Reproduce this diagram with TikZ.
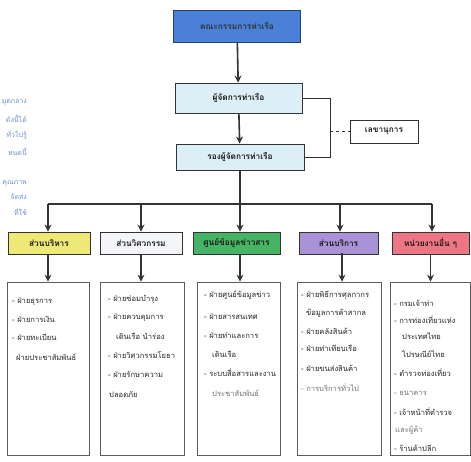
\documentclass[tikz,border=0pt]{standalone}
\usepackage{fontspec}
\newfontfamily\thai[Script=Thai]{Loma}
\usetikzlibrary{arrows.meta}
\definecolor{linegray}{HTML}{333333}
\definecolor{topblue}{HTML}{4A80D8}
\definecolor{paleblue}{HTML}{DCEFF6}
\definecolor{unityellow}{HTML}{EEE877}
\definecolor{unitwhite}{HTML}{F3F5F8}
\definecolor{unitgreen}{HTML}{46B464}
\definecolor{unitpurple}{HTML}{A992D6}
\definecolor{unitred}{HTML}{EE7584}
\definecolor{fadeblue}{HTML}{6F8FD8}
\tikzset{
  orgbox/.style={draw=linegray, line width=0.9pt, inner sep=0pt, font=\thai\bfseries\fontsize{8.3}{9}\selectfont, text=black!90},
  listbox/.style={draw=linegray!80, line width=0.7pt, inner sep=0pt},
  link/.style={draw=linegray, line width=1.6pt},
  arr/.style={link, -{Stealth[length=7pt,width=7pt]}},
  item/.style={anchor=west, inner sep=0pt, font=\thai\fontsize{7.6}{8}\selectfont, text=black!85},
  faded/.style={anchor=east, inner sep=0pt, font=\thai\fontsize{7}{8}\selectfont, text=fadeblue},
}
\begin{document}
\begin{tikzpicture}[x=1pt,y=-1pt]
\useasboundingbox[fill=white] (0,0) rectangle (471,462);

% margin notes in the left column
\node[faded] (m1) at (27,102) {มุดกลาง};
\node[faded] (m2) at (27,119) {ดังนี้ได้};
\node[faded] (m3) at (27,135) {ทั่วไปรู้};
\node[faded] (m4) at (27,152) {หนดนี้};
\node[faded] (m5) at (27,183) {คุณภาพ};
\node[faded] (m6) at (27,197) {จัดส่ง};
\node[faded] (m7) at (27,212) {ที่ใช้};

% top levels
\node[orgbox, fill=topblue, draw=topblue!50!black, minimum width=127pt, minimum height=32pt, text=black!80] (board) at (237,26) {คณะกรรมการท่าเรือ};
\node[orgbox, fill=paleblue, minimum width=127pt, minimum height=30pt] (mgr) at (238.5,98) {ผู้จัดการท่าเรือ};
\node[orgbox, fill=paleblue, minimum width=128pt, minimum height=26pt] (dep) at (240,157) {รองผู้จัดการท่าเรือ};
\node[orgbox, fill=white, line width=0.7pt, minimum width=68pt, minimum height=23pt] (sec) at (384,131.5) {เลขานุการ};

\draw[arr] (board) -- (mgr);
\draw[arr] (mgr) -- (dep);

% secretary bracket
\coordinate (brT) at (330,98);
\coordinate (brB) at (330,157);
\coordinate (brM) at (330,131.5);
\draw[linegray, line width=0.8pt] (mgr.east) -- (brT) -- (brB) -- (dep.east);
\draw[linegray, line width=0.8pt, dashed] (brM) -- (sec.west);

% units
\node[orgbox, fill=unityellow, minimum width=82pt, minimum height=22pt] (u1) at (49,243) {ส่วนบริหาร};
\node[orgbox, fill=unitwhite, minimum width=82pt, minimum height=22pt] (u2) at (141,243) {ส่วนวิศวกรรม};
\node[orgbox, fill=unitgreen, minimum width=87pt, minimum height=22pt] (u3) at (236.5,243) {ศูนย์ข้อมูลข่าวสาร};
\node[orgbox, fill=unitpurple, minimum width=79pt, minimum height=22pt] (u4) at (338.5,243) {ส่วนบริการ};
\node[orgbox, fill=unitred, minimum width=77pt, minimum height=22pt] (u5) at (430.5,243) {หน่วยงานอื่น ๆ};

% distribution bus
\coordinate (b0) at (240,204);
\coordinate (b1) at (48,204);
\coordinate (b2) at (141,204);
\coordinate (b3) at (240,204);
\coordinate (b4) at (340,204);
\coordinate (b5) at (432,204);
\draw[link] (dep.south) -- (b0);
\draw[link] (b1) -- (b5);
\foreach \i in {1,...,5} \draw[arr] (b\i) -- (b\i |- u\i.north);

% list boxes
\node[listbox, minimum width=82pt, minimum height=173pt] (l1) at (48,368.5) {};
\node[listbox, minimum width=84pt, minimum height=173pt] (l2) at (142,368.5) {};
\node[listbox, minimum width=83pt, minimum height=173pt] (l3) at (238.5,368.5) {};
\node[listbox, minimum width=84pt, minimum height=173pt] (l4) at (339,368.5) {};
\node[listbox, minimum width=80pt, minimum height=173pt] (l5) at (430,368.5) {};

\coordinate (d4) at (342,253);
\draw[arr] (u1.south -| b1) -- (b1 |- l1.north);
\draw[arr] (u2.south -| b2) -- (b2 |- l2.north);
\draw[arr] (u3.south -| b3) -- (b3 |- l3.north);
\draw[arr] (d4) -- (d4 |- l4.north);
\draw[arr] (u5.south) -- (u5.south |- l5.north);

% column 1
\node[item] (t11) at (12,302) {- ฝ่ายธุรการ};
\node[item] (t12) at (12,319.5) {- ฝ่ายการเงิน};
\node[item] (t13) at (12,337.5) {- ฝ่ายทะเบียน};
\node[item] (t14) at (16,357) {ฝ่ายประชาสัมพันธ์};

% column 2
\node[item] (t21) at (108,299) {- ฝ่ายซ่อมบำรุง};
\node[item] (t22) at (108,318) {- ฝ่ายควบคุมการ};
\node[item] (t23) at (116,336.5) {เดินเรือ นำร่อง};
\node[item] (t24) at (108,355) {- ฝ่ายวิศวกรรมโยธา};
\node[item] (t25) at (108,374) {- ฝ่ายรักษาความ};
\node[item] (t26) at (109,394.5) {ปลอดภัย};

% column 3
\node[item] (t31) at (204,295.5) {- ฝ่ายศูนย์ข้อมูลข่าว};
\node[item] (t32) at (204,317) {- ฝ่ายสารสนเทศ};
\node[item] (t33) at (204,335.5) {- ฝ่ายท่าและการ};
\node[item] (t34) at (212,354) {เดินเรือ};
\node[item] (t35) at (204,373) {- ระบบสื่อสารและงาน};
\node[item, text=black!55] (t36) at (212,393) {ประชาสัมพันธ์};

% column 4
\node[item] (t41) at (301,295.5) {- ฝ่ายพิธีการศุลกากร};
\node[item] (t42) at (306,313) {ข้อมูลการค้าสากล};
\node[item] (t43) at (301,331) {- ฝ่ายคลังสินค้า};
\node[item] (t44) at (301,348.5) {- ฝ่ายท่าเทียบเรือ};
\node[item] (t45) at (301,368) {- ฝ่ายขนส่งสินค้า};
\node[item, text=black!55] (t46) at (301,388) {- การบริการทั่วไป};

% column 5
\node[item] (t51) at (394,303) {- กรมเจ้าท่า};
\node[item] (t52) at (394,320) {- การท่องเที่ยวแห่ง};
\node[item] (t53) at (402,336.5) {ประเทศไทย};
\node[item] (t54) at (402,354.5) {ไปรษณีย์ไทย};
\node[item] (t55) at (394,373) {- ตำรวจท่องเที่ยว};
\node[item, text=black!55] (t56) at (394,393) {- ธนาคาร};
\node[item] (t57) at (394,412) {- เจ้าหน้าที่ตำรวจ};
\node[item, text=black!55] (t58) at (395,430) {และผู้ค้า};
\node[item] (t59) at (394,448) {- ร้านค้าปลีก};
\end{tikzpicture}
\end{document}
